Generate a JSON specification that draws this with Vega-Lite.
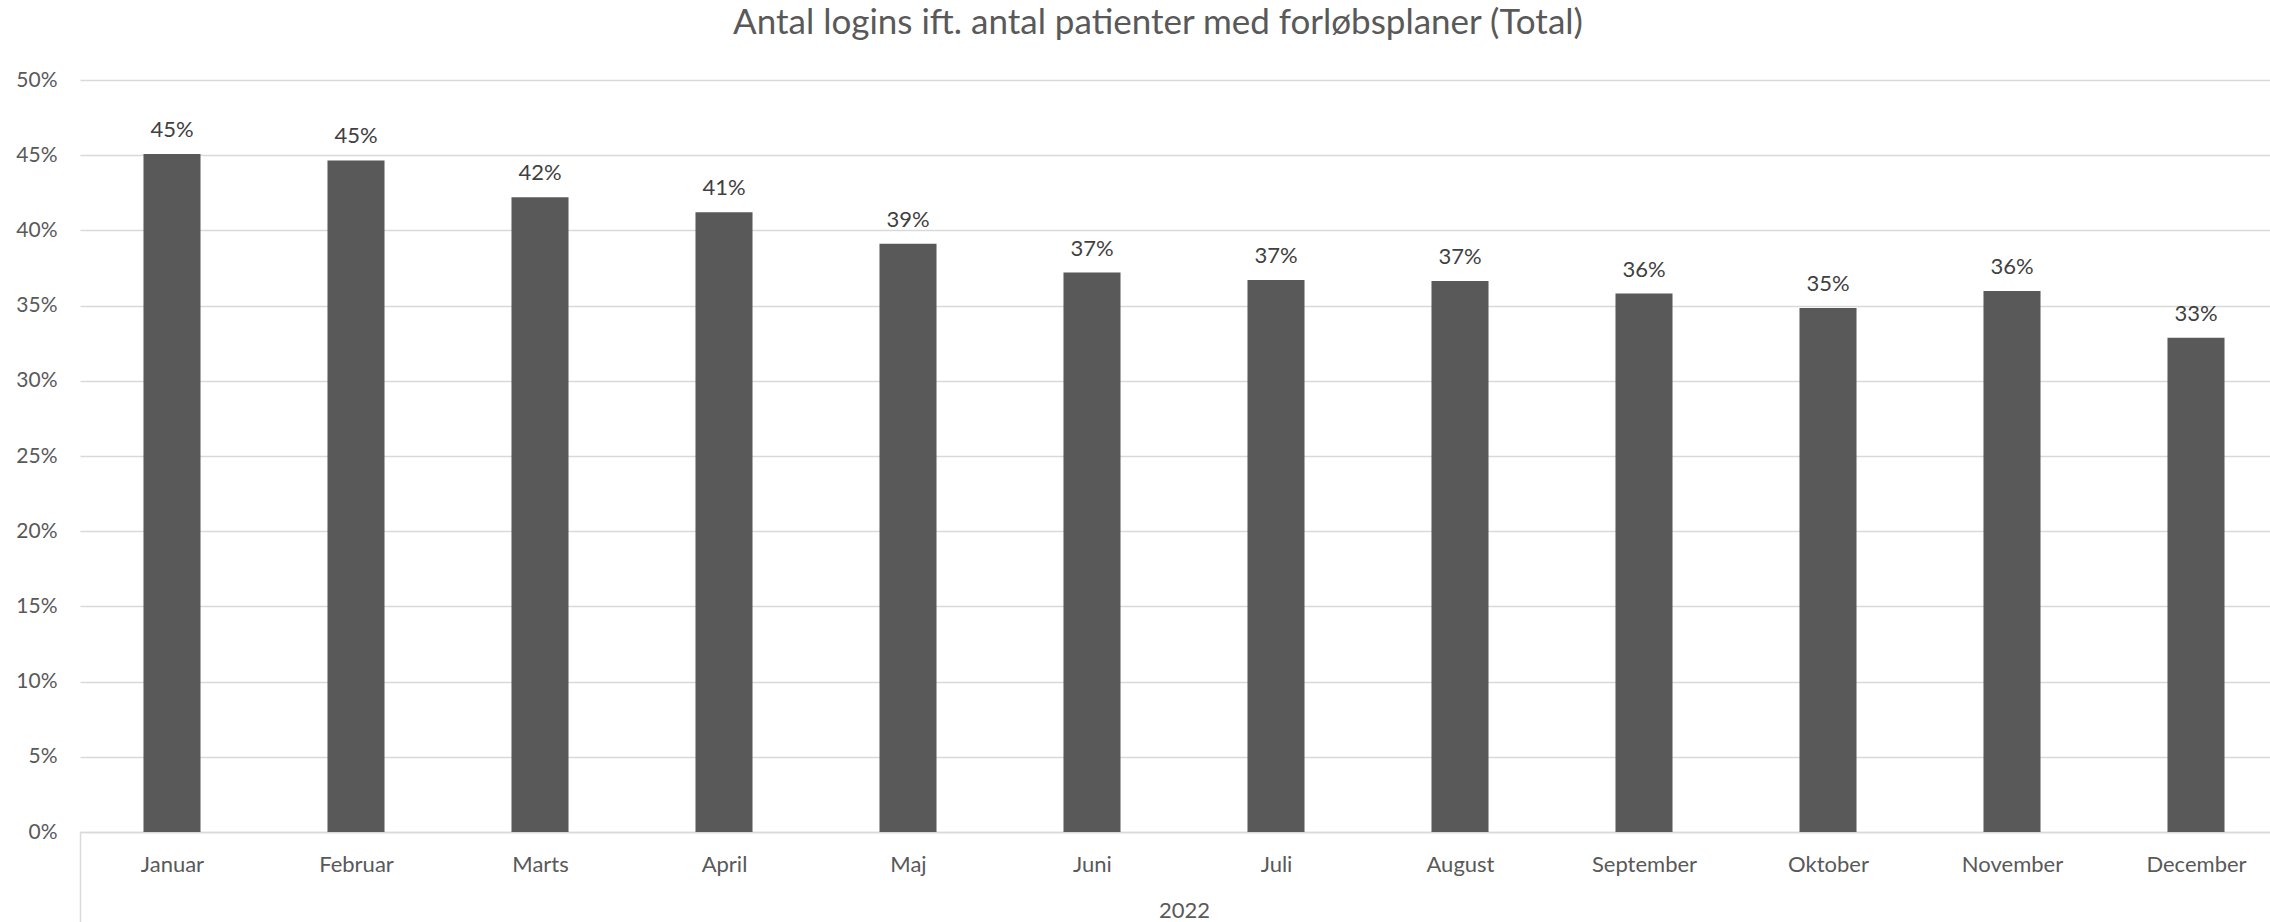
{
  "$schema": "https://vega.github.io/schema/vega-lite/v6.json",
  "autosize": "none",
  "width": 2208,
  "height": 752,
  "padding": {"left": 80, "top": 80, "right": 0, "bottom": 90},
  "background": "white",
  "title": {
    "text": "Antal logins ift. antal patienter med forløbsplaner (Total)",
    "font": "Lato",
    "fontSize": 35,
    "fontWeight": "normal",
    "color": "#595959",
    "anchor": "middle",
    "frame": "group",
    "baseline": "alphabetic",
    "offset": 0,
    "dx": -26
  },
  "config": {
    "view": {"stroke": null},
    "font": "Lato"
  },
  "data": {
    "values": [
      {"month": "Januar", "value": 0.4508},
      {"month": "Februar", "value": 0.4465},
      {"month": "Marts", "value": 0.4220},
      {"month": "April", "value": 0.4120},
      {"month": "Maj", "value": 0.3912},
      {"month": "Juni", "value": 0.3720},
      {"month": "Juli", "value": 0.3670},
      {"month": "August", "value": 0.3663},
      {"month": "September", "value": 0.3580},
      {"month": "Oktober", "value": 0.3484},
      {"month": "November", "value": 0.3597},
      {"month": "December", "value": 0.3287}
    ]
  },
  "encoding": {
    "x": {
      "field": "month",
      "type": "nominal",
      "sort": null,
      "scale": {"paddingInner": 0.69, "paddingOuter": 0.345},
      "axis": {
        "title": "2022",
        "titleFont": "Lato",
        "titleFontSize": 22,
        "titleFontWeight": "normal",
        "titleColor": "#595959",
        "titleBaseline": "middle",
        "titleY": 78,
        "labelAngle": 0,
        "labelFont": "Lato",
        "labelFontSize": 22,
        "labelColor": "#595959",
        "labelBaseline": "top",
        "labelPadding": -68,
        "tickSize": 90,
        "tickWidth": 1.5,
        "tickOffset": -92,
        "labelOffset": 92,
        "tickColor": {"condition": {"test": "datum.value === 'Januar'", "value": "#d9d9d9"}, "value": "transparent"},
        "domainColor": "#d9d9d9",
        "domainWidth": 1.5,
        "grid": false
      }
    },
    "y": {
      "field": "value",
      "type": "quantitative",
      "scale": {"domain": [0, 0.5], "nice": false},
      "axis": {
        "title": null,
        "values": [0, 0.05, 0.1, 0.15, 0.2, 0.25, 0.3, 0.35, 0.4, 0.45, 0.5],
        "format": ".0%",
        "labelFont": "Lato",
        "labelFontSize": 21,
        "labelColor": "#595959",
        "labelPadding": 23,
        "ticks": false,
        "domain": false,
        "grid": true,
        "gridColor": "#d9d9d9",
        "gridWidth": 1.5
      }
    }
  },
  "layer": [
    {
      "mark": {"type": "bar", "color": "#595959"}
    },
    {
      "mark": {
        "type": "text",
        "baseline": "alphabetic",
        "dy": -17,
        "font": "Lato",
        "fontSize": 22,
        "color": "#404040"
      },
      "encoding": {
        "text": {"field": "value", "type": "quantitative", "format": ".0%"}
      }
    }
  ]
}
